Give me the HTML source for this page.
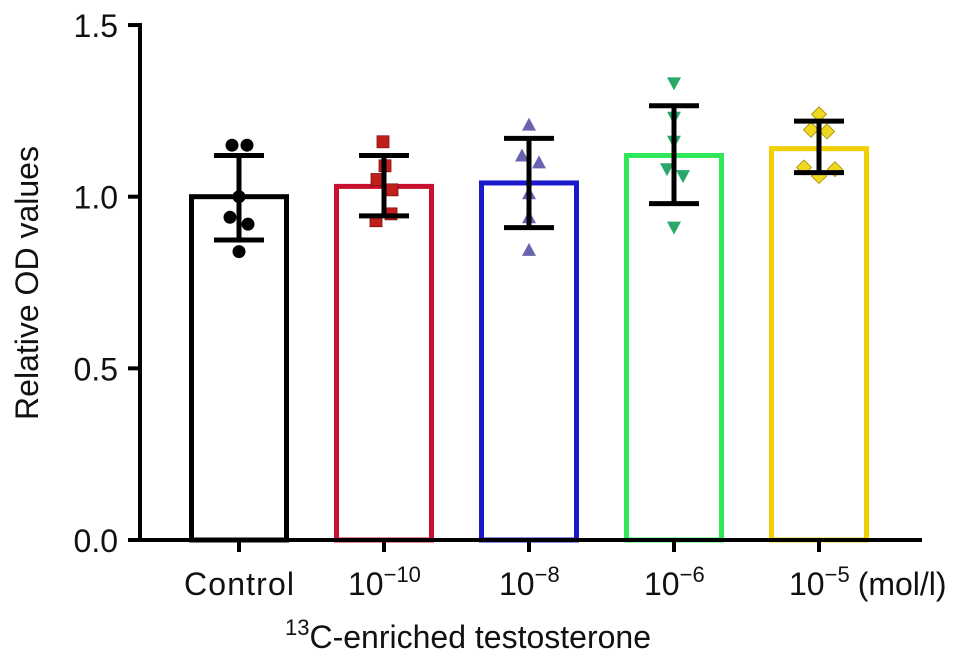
<!DOCTYPE html>
<html><head><meta charset="utf-8"><style>
html,body{margin:0;padding:0;background:#fff;}
svg{display:block;font-family:"Liberation Sans",Arial,sans-serif;}
</style></head><body>
<svg id="chart" width="969" height="663" viewBox="0 0 969 663"></svg>
<script>
const categories = ["Control","10^-10","10^-8","10^-6","10^-5"];
const exponents = ["","−10","−8","−6","−5"];
const means = [1.00, 1.03, 1.04, 1.12, 1.14];
const errUpper = [1.12, 1.12, 1.17, 1.265, 1.22];
const errLower = [0.874, 0.944, 0.91, 0.98, 1.07];
const points = [
  [1.15,1.15,1.00,0.94,0.92,0.84],
  [1.16,1.09,1.05,1.02,0.95,0.93],
  [1.21,1.12,1.10,1.01,0.94,0.845],
  [1.33,1.23,1.16,1.08,1.06,0.91],
  [1.24,1.195,1.19,1.085,1.08,1.06]
];
const jitter = [
  [-7,8,0,-9,9,0],
  [-1,1,-7,8,7,-8],
  [0,-7,10,0,0,0],
  [0,0,0,-7,9,0],
  [0,-8,8,-15,16,0]
];
const yTicks = [0.0, 0.5, 1.0, 1.5];
const colors = ["#000000","#c8102e","#1a1acc","#2ee85a","#f0d000"];
const fills = ["#000000","#c0201c","#6a64b0","#2aa86a","#f0d820"];
const shapes = ["circle","square","tri-up","tri-down","diamond"];

const svg = document.getElementById('chart');
const NS = "http://www.w3.org/2000/svg";
const x0 = 140, xEnd = 922, yZero = 540, pxPerUnit = 343.3;
const yS = v => yZero - v * pxPerUnit;
const xC = i => 239 + i * 145;
const barW = 99;
const FS = 32;
function mk(tag, attrs){const e=document.createElementNS(NS,tag);for(const k in attrs)e.setAttribute(k,attrs[k]);svg.appendChild(e);return e;}

categories.forEach((c,i)=>{
  const b = mk('rect',{x:xC(i)-barW/2+2,y:yS(means[i]),width:barW-4,height:yZero-yS(means[i]),fill:'none',stroke:colors[i],'stroke-width':5});
  
  
});
categories.forEach((c,i)=>{
  points[i].forEach((v,j)=>{
    const cx = xC(i)+jitter[i][j], cy = yS(v);
    let e;
    if(shapes[i]==='circle') e = mk('circle',{cx,cy,r:6.5,fill:fills[i]});
    else if(shapes[i]==='square') e = mk('rect',{x:cx-6,y:cy-6,width:12,height:12,fill:fills[i],stroke:'#801010','stroke-width':0.8});
    else if(shapes[i]==='tri-up') e = mk('polygon',{points:`${cx},${cy-7} ${cx-7},${cy+6} ${cx+7},${cy+6}`,fill:fills[i]});
    else if(shapes[i]==='tri-down') e = mk('polygon',{points:`${cx},${cy+7} ${cx-7},${cy-6} ${cx+7},${cy-6}`,fill:fills[i]});
    else e = mk('polygon',{points:`${cx},${cy-7.5} ${cx+7.5},${cy} ${cx},${cy+7.5} ${cx-7.5},${cy}`,fill:fills[i],stroke:'#a08a00','stroke-width':0.8});
    
    
  });
});
categories.forEach((c,i)=>{
  const g = document.createElementNS(NS,'g');
  
  
  svg.appendChild(g);
  const x = xC(i);
  [[x,yS(errUpper[i]),x,yS(errLower[i])],[x-25,yS(errUpper[i]),x+25,yS(errUpper[i])],[x-25,yS(errLower[i]),x+25,yS(errLower[i])]].forEach(l=>{
    const ln=document.createElementNS(NS,'line');
    ln.setAttribute('x1',l[0]);ln.setAttribute('y1',l[1]);ln.setAttribute('x2',l[2]);ln.setAttribute('y2',l[3]);
    ln.setAttribute('stroke','#000');ln.setAttribute('stroke-width',5);
    g.appendChild(ln);
  });
});
const ya = mk('line',{x1:x0,y1:yS(1.5)-2,x2:x0,y2:yZero+2,stroke:'#000','stroke-width':4});


const xa = mk('line',{x1:x0-2,y1:yZero,x2:xEnd,y2:yZero,stroke:'#000','stroke-width':4});


yTicks.forEach(t=>{
  mk('line',{x1:x0-12,y1:yS(t),x2:x0,y2:yS(t),stroke:'#000','stroke-width':4});
  const tx = mk('text',{x:x0-22,y:yS(t)+12,'text-anchor':'end','font-size':FS,fill:'#111'});
  tx.textContent = t.toFixed(1);
  
  
});
categories.forEach((c,i)=>{
  mk('line',{x1:xC(i),y1:yZero,x2:xC(i),y2:yZero+12,stroke:'#000','stroke-width':4});
  const tx = mk('text',{x:xC(i),y:595,'text-anchor':'middle','font-size':FS,fill:'#111'});
  if(i===0){tx.textContent='Control';tx.setAttribute('textLength',110);}
  else{
    tx.setAttribute('text-anchor','start');
    tx.setAttribute('x',xC(i)-(i===1?36:30));
    const a=document.createElementNS(NS,'tspan');a.textContent='10';tx.appendChild(a);
    const b=document.createElementNS(NS,'tspan');b.setAttribute('dy',-13);b.setAttribute('font-size',22);b.textContent=exponents[i];tx.appendChild(b);
    if(i===4){const u=document.createElementNS(NS,'tspan');u.setAttribute('dy',13);u.setAttribute('dx',8);u.textContent='(mol/l)';tx.appendChild(u);}
  }
  
  
});
const xt = mk('text',{x:468,y:648,'text-anchor':'middle','font-size':FS,fill:'#111'});
xt.innerHTML='<tspan dy="-13" font-size="22">13</tspan><tspan dy="13">C-enriched testosterone</tspan>';


const yt = mk('text',{x:0,y:0,'text-anchor':'middle','font-size':FS,fill:'#111',transform:'translate(38,283) rotate(-90)'});
yt.textContent='Relative OD values';


</script>
</body></html>
